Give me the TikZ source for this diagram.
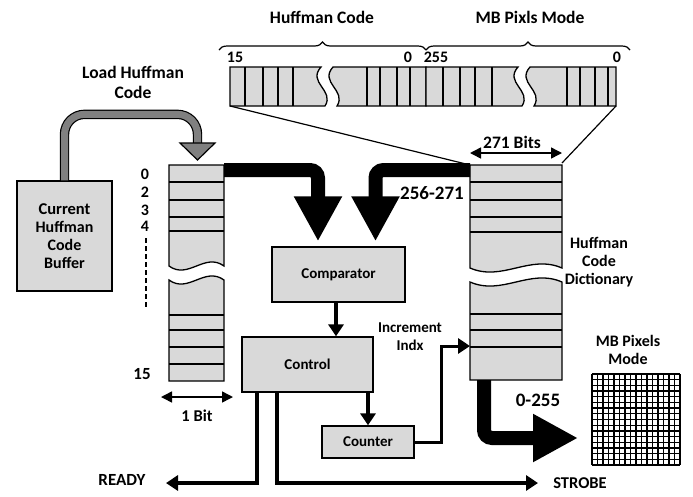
\documentclass[tikz,border=0pt]{standalone}
\usepackage{fontspec}
\setmainfont{Carlito}
\usetikzlibrary{arrows.meta, positioning, decorations.pathreplacing}
\definecolor{cellgray}{RGB}{217,217,217}
\definecolor{loadgray}{RGB}{128,128,128}

\newcommand{\brokencol}[5]{%
  \filldraw[cell] (#1,#3) -- (#2,#3) -- (#2,#4)
    .. controls ({#2-0.35*(#2-#1)},{#4-14}) and ({#1+0.35*(#2-#1)},{#4+14}) .. (#1,#4) -- cycle;
  \filldraw[cell] (#1,#5) -- (#2,#5) -- (#2,{#4+14})
    .. controls ({#2-0.35*(#2-#1)},{#4}) and ({#1+0.35*(#2-#1)},{#4+28}) .. (#1,{#4+14}) -- cycle;}
\newcommand{\brokenstrip}[5]{%
  \filldraw[cell] (#1,#4) -- (#2,#4)
    .. controls ({#2-14},{#4+0.4*(#5-#4)}) and ({#2+14},{#5-0.4*(#5-#4)}) .. ({#2+4},#5) -- (#1,#5) -- cycle;
  \filldraw[cell] ({#2+12},#4)
    .. controls ({#2-2},{#4+0.4*(#5-#4)}) and ({#2+26},{#5-0.4*(#5-#4)}) .. ({#2+16},#5) -- (#3,#5) -- (#3,#4) -- cycle;}
\newcommand{\fsz}[1]{\fontsize{#1}{18}\selectfont}

\begin{document}
\begin{tikzpicture}[
    x=1pt, y=-1pt,
    every node/.style = {font=\bfseries\fontsize{16}{18}\selectfont, inner sep=0pt},
    blk/.style = {draw, fill=cellgray, line width=1.3pt, align=center},
    frame/.style = {inner sep=0pt, outer sep=0pt},
    cell/.style = {draw, fill=cellgray, line width=1.3pt},
    bigarrow/.style = {line width=14pt, rounded corners=8pt, -{Triangle[length=45pt, width=45pt]}},
    sig/.style = {line width=4pt, -{Triangle[length=12pt, width=15pt]}},
    dimarrow/.style = {line width=1.5pt, {Triangle[length=11pt, width=11pt]}-{Triangle[length=11pt, width=11pt]}},
    loadline/.style = {draw=black, line width=1.2pt, double=loadgray, double distance=7pt, rounded corners=20pt},
    brace/.style = {decorate, decoration={brace, amplitude=8pt}, line width=1.2pt}
]
  \useasboundingbox (0,0) rectangle (693,496);

  % frames of the drawn registers
  \node[frame, minimum width=196, minimum height=39] (hc) at (328,86.5) {};
  \node[frame, minimum width=190, minimum height=39] (mb) at (521,86.5) {};
  \node[frame, minimum width=55, minimum height=216] (reg) at (196.5,273) {};
  \node[frame, minimum width=92, minimum height=215] (dict) at (516,272.5) {};
  \node[frame, minimum width=88, minimum height=91] (grid) at (636,419.5) {};

  \brokenstrip{230}{321}{426}{67}{106}
  \brokenstrip{426}{518}{616}{67}{106}
  \foreach \x in {245,263,278,293,367,380,397,410,443,460,475,492,567,580,595,608}
    \draw[line width=1.3pt] (\x,67) -- (\x,106);
  \brokencol{169}{224}{165}{266}{381}
  \foreach \y in {182,200,217,231,315,330,347,364}
    \draw[line width=1.3pt] (169,\y) -- (224,\y);
  \brokencol{470}{562}{165}{268}{380}
  \foreach \y in {182,200,217,232,314,330,347}
    \draw[line width=1.3pt] (470,\y) -- (562,\y);
  \foreach \i in {0,...,16} {
    \draw[line width=1.3pt] (592+5.5*\i,374) -- (592+5.5*\i,465);
    \draw[line width=1.3pt] (592,374+5.6875*\i) -- (680,374+5.6875*\i);
  }

  \node[blk, minimum width=95, minimum height=110] (buf) at (64.5,236) {\fsz{16.5}Current\\Huffman\\Code\\Buffer};
  \node[blk, minimum width=133, minimum height=55, font=\bfseries\fsz{15}] (comp) at (338.5,274.5) {Comparator};
  \node[blk, minimum width=131, minimum height=55, font=\bfseries\fsz{15}] (ctrl) at (307.5,364.5) {Control};
  \node[blk, minimum width=92, minimum height=32, font=\bfseries\fsz{15}] (cnt) at (368,442) {Counter};

  \node[font=\bfseries\fsz{17.5}] (lblhc) at (322,17) {Huffman Code};
  \node[font=\bfseries\fsz{17.5}] (lblmb) at (530,17) {MB Pixls Mode};
  \node (n15) at (235,57) {15};
  \node (n0a) at (408,57) {0};
  \node (n255) at (436,57) {255};
  \node (n0b) at (617,57) {0};
  \node[align=center, font=\bfseries\fontsize{17.5}{20}\selectfont] (lblload) at (133,82) {Load Huffman\\Code};
  \node[font=\bfseries\fsz{17.5}] (bits) at (512,142) {271 Bits};
  \node (r0) at (145,174) {0};
  \node (r2) at (145,192) {2};
  \node (r3) at (145,210) {3};
  \node (r4) at (145,226) {4};
  \node[font=\bfseries\fsz{17}] (r15) at (142,374) {15};
  \node[font=\bfseries\fsz{16.5}] (bit1) at (197,416) {1 Bit};
  \node[font=\bfseries\fsz{19}] (r256) at (432,193) {256-271};
  \node[align=center] (lbldict) at (599,262) {Huffman\\Code\\Dictionary};
  \node[align=center] (lblpix) at (628,350) {MB Pixels\\Mode};
  \node[font=\bfseries\fsz{19}] (r0255) at (538,400) {0-255};
  \node[align=center, font=\bfseries\fsz{15}] (lblinc) at (410,337) {Increment\\Indx};
  \node[font=\bfseries\fsz{17}] (ready) at (122,480) {READY};
  \node[font=\bfseries\fsz{16.5}] (strobe) at (580,483) {STROBE};
  \coordinate (readytip) at (166,483);
  \coordinate (strobetip) at (538,483);
  \coordinate (outtip) at (578,438);

  \draw[brace] ([xshift=-11pt, yshift=17pt]hc.north west) -- ([yshift=17pt]hc.north east);
  \draw[brace] ([yshift=17pt]mb.north west) -- ([xshift=14pt, yshift=17pt]mb.north east);
  \draw[line width=1.2pt] (hc.south west) -- (dict.north west);
  \draw[line width=1.2pt] (mb.south east) -- ([yshift=2pt]dict.north east);
  \draw[dimarrow] ([yshift=12pt]dict.north west) -- ([yshift=12pt]dict.north east);
  \draw[dimarrow] ([xshift=-8pt, yshift=-16pt]reg.south west) -- ([xshift=9pt, yshift=-16pt]reg.south east);
  \draw[line width=1.5pt, dash pattern=on 5pt off 3pt] (146,238) -- (146,307);

  \draw[loadline] (buf.north) -- ++(0,-66) -| ([xshift=1pt, yshift=21pt]reg.north);
  \filldraw[fill=loadgray, draw=black, line width=1.2pt]
    ([xshift=-16.5pt, yshift=22pt]reg.north) -- ([xshift=18.5pt, yshift=22pt]reg.north)
    -- ([xshift=1pt, yshift=5pt]reg.north) -- cycle;

  \draw[bigarrow] ([yshift=-5pt]reg.north east) -| ([xshift=-20.5pt, yshift=5pt]comp.north);
  \draw[bigarrow] ([yshift=-5pt]dict.north west) -| ([xshift=37pt, yshift=5pt]comp.north);
  \draw[bigarrow] ([xshift=14pt]dict.south west) |- (outtip);

  \draw[sig] ([xshift=-2.5pt]comp.south) -- ([xshift=-2.5pt]comp.south |- ctrl.north);
  \draw[sig] (cnt.north |- ctrl.south) -- (cnt.north);
  \draw[sig, line width=3pt] (cnt.east) -- ++(27,0) |- ([yshift=34pt]dict.south west);
  \draw[sig] ([xshift=16pt]ctrl.south west) |- (readytip);
  \draw[sig] ([xshift=36pt]ctrl.south west) |- (strobetip);
\end{tikzpicture}
\end{document}
